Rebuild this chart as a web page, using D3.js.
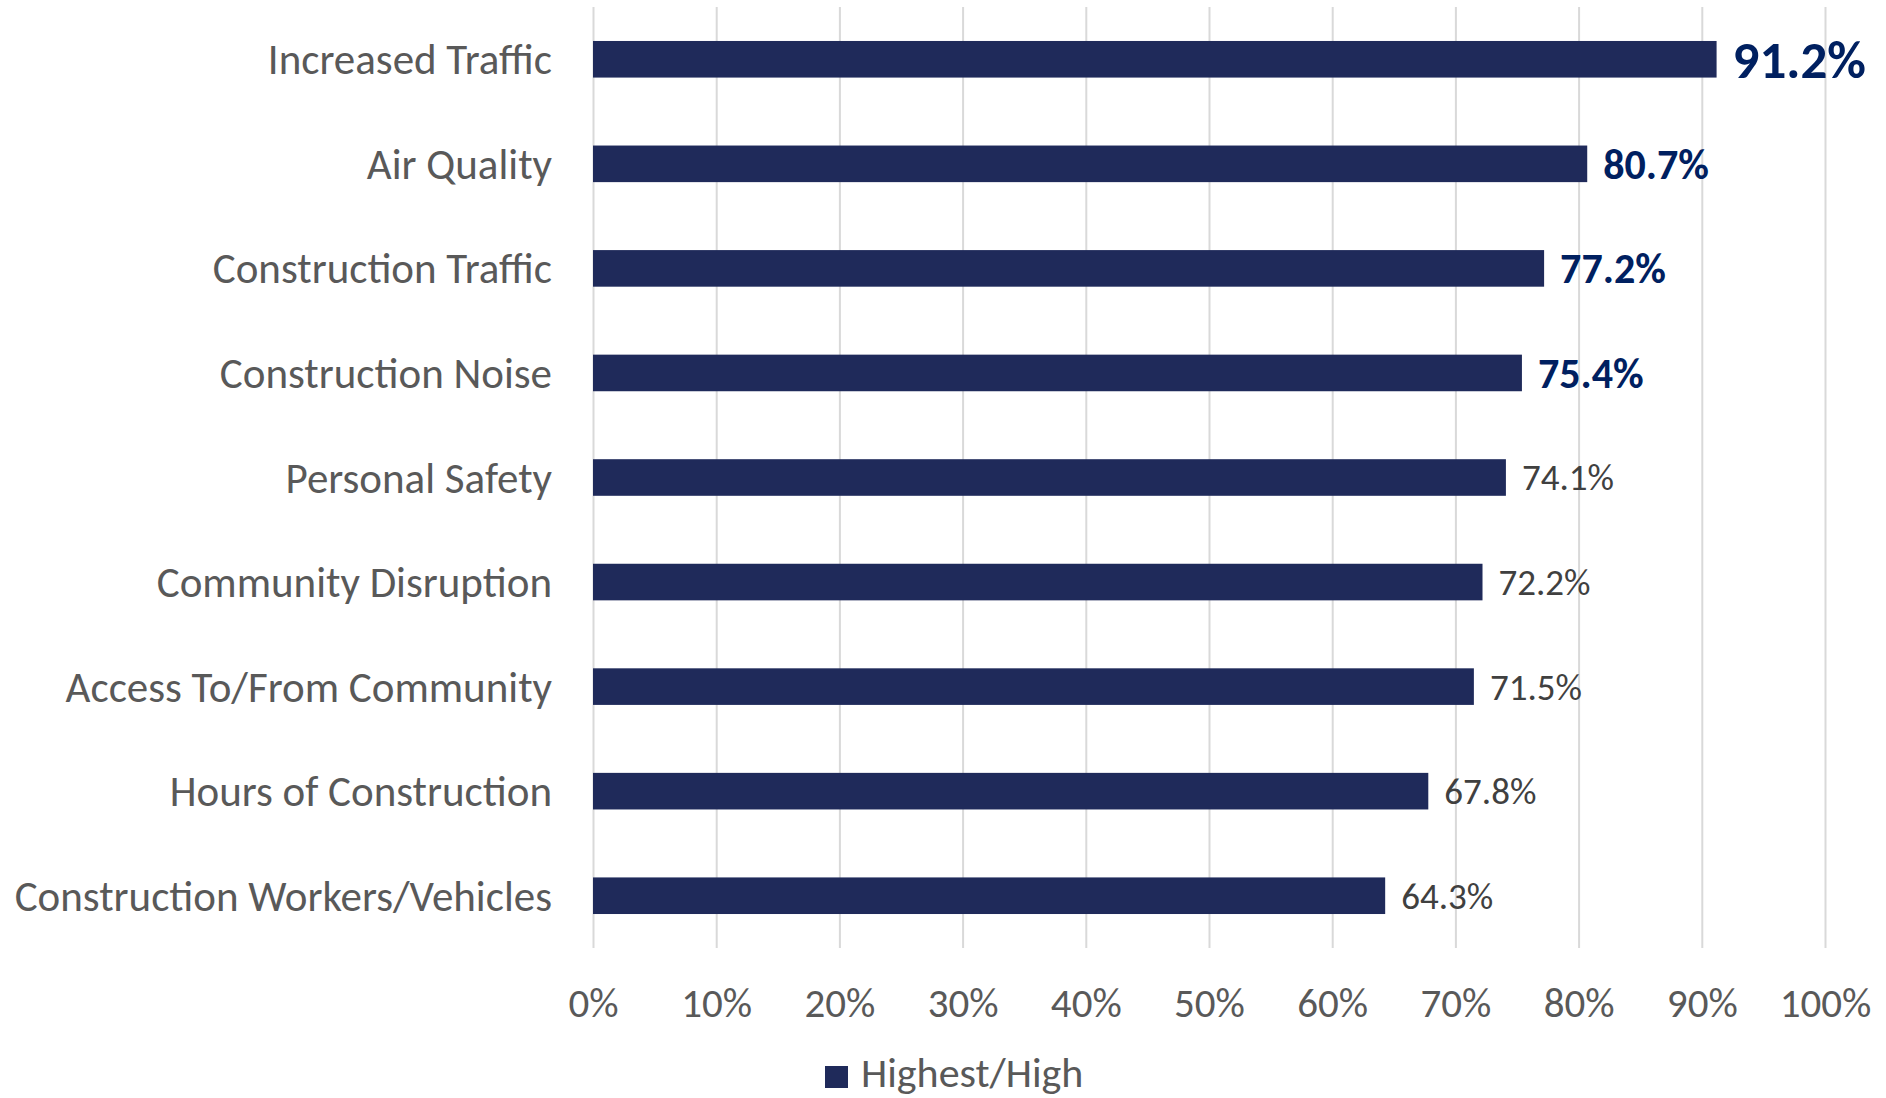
<!DOCTYPE html>
<html><head><meta charset="utf-8">
<script src="https://cdn.jsdelivr.net/npm/d3@7"></script>
<style>
body{margin:0;background:#fff;}
text{font-family:Carlito, Calibri, Lato, "Open Sans", sans-serif;}
</style></head>
<body><svg id="c" width="1886" height="1098"></svg>
<script>
const categories = ["Increased Traffic","Air Quality","Construction Traffic","Construction Noise","Personal Safety","Community Disruption","Access To/From Community","Hours of Construction","Construction Workers/Vehicles"];
const values = [91.2,80.7,77.2,75.4,74.1,72.2,71.5,67.8,64.3];
const highlighted = [true,true,true,true,false,false,false,false,false];
const tickValues = [0,10,20,30,40,50,60,70,80,90,100];
const seriesName = "Highest/High";

const W=1886,H=1098;
const m={left:593,right:61,top:7,bottom:150};
const svg=d3.select("#c");
const x=d3.scaleLinear().domain([0,100]).range([m.left,W-m.right]);
const y=d3.scaleBand().domain(categories).range([m.top,H-m.bottom]).paddingInner(0.65).paddingOuter(0.325);
const barColor="#1f2a5a";

// grid + x axis
const xa=svg.append("g").attr("transform",`translate(0,${H-m.bottom})`)
  .call(d3.axisBottom(x).tickValues(tickValues).tickFormat(d=>d+"%").tickSize(-(H-m.bottom-m.top)));
xa.select(".domain").remove();
xa.selectAll(".tick line").attr("stroke","#d9d9d9").attr("stroke-width",2);
xa.selectAll(".tick text").attr("y",69).attr("dy",null).attr("fill","#595959").attr("font-size",41);

// y axis labels
const ya=svg.append("g").attr("transform",`translate(${m.left},0)`)
  .call(d3.axisLeft(y).tickSize(0).tickPadding(41));
ya.select(".domain").remove();
ya.selectAll(".tick text").attr("fill","#595959").attr("font-size",43).attr("dy","0.35em");

// bars
svg.append("g").selectAll("rect").data(values).join("rect")
  .attr("x",x(0)).attr("y",(d,i)=>y(categories[i]))
  .attr("width",d=>x(d)-x(0)).attr("height",y.bandwidth())
  .attr("fill",barColor);

// labels
svg.append("g").selectAll("text").data(values).join("text")
  .attr("x",d=>x(d)+16).attr("y",(d,i)=>y(categories[i])+y.bandwidth()/2)
  .attr("dy","0.35em")
  .attr("font-size",(d,i)=>i===0?53:(highlighted[i]?42:37))
  .attr("font-weight",(d,i)=>highlighted[i]?"bold":"normal")
  .attr("fill",(d,i)=>highlighted[i]?"#002060":"#404040")
  .text(d=>d.toFixed(1)+"%");

// legend
const lg=svg.append("g");
lg.append("rect").attr("x",825).attr("y",1066).attr("width",23).attr("height",22).attr("fill",barColor);
lg.append("text").attr("x",861).attr("y",1087).attr("font-size",42).attr("fill","#595959").text(seriesName);
</script></body></html>
